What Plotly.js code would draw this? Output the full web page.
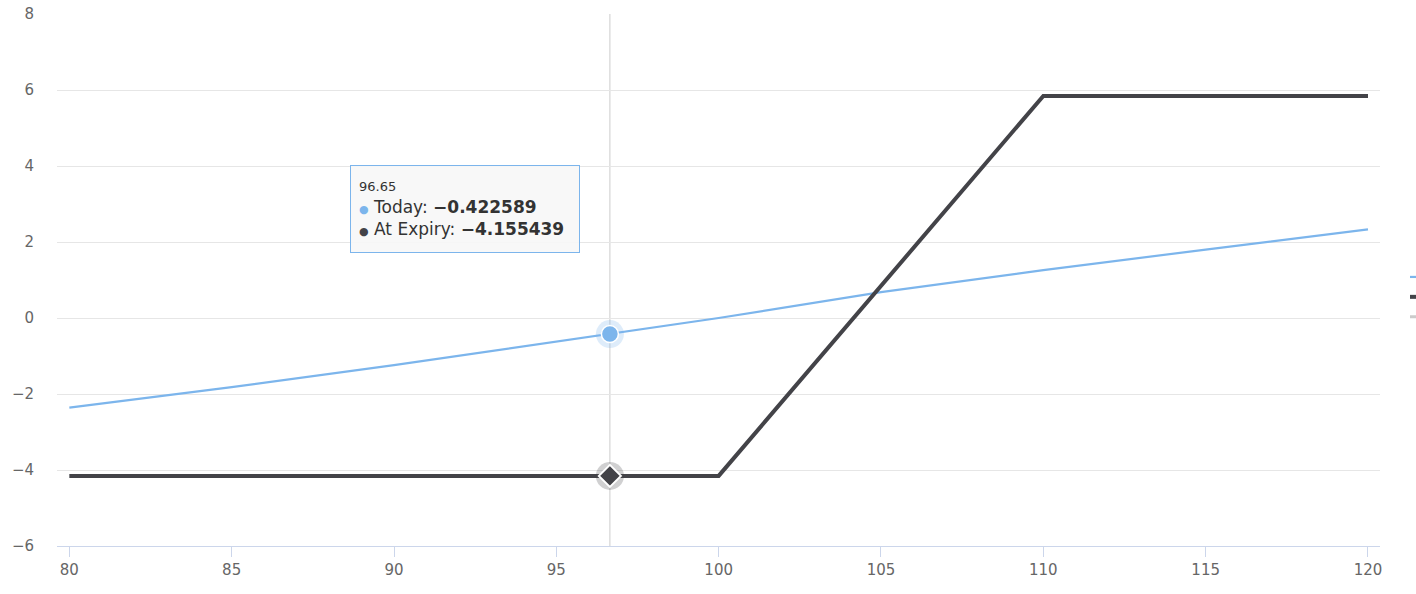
<!DOCTYPE html>
<html>
<head>
<meta charset="utf-8">
<script src="https://cdn.plot.ly/plotly-3.0.1.min.js"></script>
<style>html,body{margin:0;padding:0;background:#fff;overflow:hidden}#chart{width:1416px;height:594px}</style>
</head>
<body>
<div id="chart"></div>
<script>
// Underlying price
const todayX = [80, 85, 90, 95, 96.65, 100, 105, 110, 115, 120];
const todayY = [-2.36, -1.82, -1.24, -0.62, -0.422589, 0.0, 0.68, 1.26, 1.80, 2.33];
const expiryX = [80, 100, 110, 120];
const expiryY = [-4.155439, -4.155439, 5.844561, 5.844561];
const hoverX = 96.65;
const hoverToday = -0.422589;
const hoverExpiry = -4.155439;
const seriesNames = ['Today', 'At Expiry', 'Breakeven'];
const xTicks = [80, 85, 90, 95, 100, 105, 110, 115, 120];
const yTicks = [-6, -4, -2, 0, 2, 4, 6, 8];

const BLUE = '#7cb5ec', DARK = '#434348';
const fmt = v => String(v).replace('-', '\u2212');

const traces = [
  {x: todayX, y: todayY, name: seriesNames[0], mode: 'lines', line: {color: BLUE, width: 2.2}, hoverinfo: 'skip'},
  {x: expiryX, y: expiryY, name: seriesNames[1], mode: 'lines', line: {color: DARK, width: 4}, hoverinfo: 'skip'},
  {x: [null], y: [null], name: seriesNames[2], mode: 'lines', line: {color: '#999999', width: 3}, visible: 'legendonly'},
  // hover halos and markers
  {x: [hoverX], y: [hoverToday], mode: 'markers', showlegend: false, hoverinfo: 'skip',
   marker: {size: 28, color: 'rgba(124,181,236,0.25)', line: {width: 0}}},
  {x: [hoverX], y: [hoverToday], mode: 'markers', showlegend: false, hoverinfo: 'skip',
   marker: {size: 17, color: BLUE, line: {width: 1.5, color: '#ffffff'}}},
  {x: [hoverX], y: [hoverExpiry], mode: 'markers', showlegend: false, hoverinfo: 'skip',
   marker: {size: 28, color: 'rgba(67,67,72,0.25)', line: {width: 0}}},
  {x: [hoverX], y: [hoverExpiry], mode: 'markers', showlegend: false, hoverinfo: 'skip',
   marker: {symbol: 'diamond', size: 17, color: DARK, line: {width: 2, color: '#ffffff'}}}
];

const tipText = '<span style="font-size:13px">' + hoverX + '</span><br>' +
  '<span style="color:' + BLUE + ';font-size:11px">\u25CF</span> ' + seriesNames[0] + ': <b>' + fmt(hoverToday) + '</b><br>' +
  '<span style="color:' + DARK + ';font-size:11px">\u25CF</span> ' + seriesNames[1] + ': <b>' + fmt(hoverExpiry) + '</b>';

const layout = {
  width: 1416, height: 594,
  margin: {l: 57, r: 36, t: 14, b: 48},
  paper_bgcolor: '#ffffff', plot_bgcolor: '#ffffff',
  font: {family: 'DejaVu Sans, Arial, sans-serif', color: '#666666', size: 15},
  showlegend: true,
  legend: {xref: 'container', yref: 'container', x: 1405 / 1416, xanchor: 'left', y: 0.5, yanchor: 'middle',
           font: {size: 13, color: '#333333'}, bgcolor: 'rgba(0,0,0,0)', tracegroupgap: 0},
  xaxis: {range: [79.62, 120.37], tickvals: xTicks, ticktext: xTicks.map(String),
          showgrid: false, zeroline: false, showline: true, linecolor: '#ccd6eb', linewidth: 1,
          ticks: 'outside', ticklen: 10, tickcolor: '#ccd6eb', tickfont: {size: 15, color: '#666666'}},
  yaxis: {range: [-6, 8], tickvals: yTicks, ticktext: yTicks.map(fmt),
          showgrid: true, gridcolor: '#e6e6e6', gridwidth: 1, zeroline: false, showline: false,
          ticks: '', ticklabelstandoff: 22, tickfont: {size: 15, color: '#666666'}},
  shapes: [{type: 'line', xref: 'x', yref: 'paper', x0: hoverX, x1: hoverX, y0: 0, y1: 1,
            line: {color: '#cccccc', width: 1}, layer: 'below'}],
  annotations: [{xref: 'x', yref: 'y', x: 88.65, y: 4.03, xanchor: 'left', yanchor: 'top',
                 text: tipText, showarrow: false, align: 'left', valign: 'middle',
                 width: 212, height: 70,
                 font: {family: 'DejaVu Sans, Arial, sans-serif', size: 17, color: '#333333'},
                 bgcolor: 'rgba(247,247,247,0.9)', bordercolor: BLUE, borderwidth: 1, borderpad: 8}]
};

Plotly.newPlot('chart', traces, layout, {displayModeBar: false, staticPlot: true});
</script>
</body>
</html>
